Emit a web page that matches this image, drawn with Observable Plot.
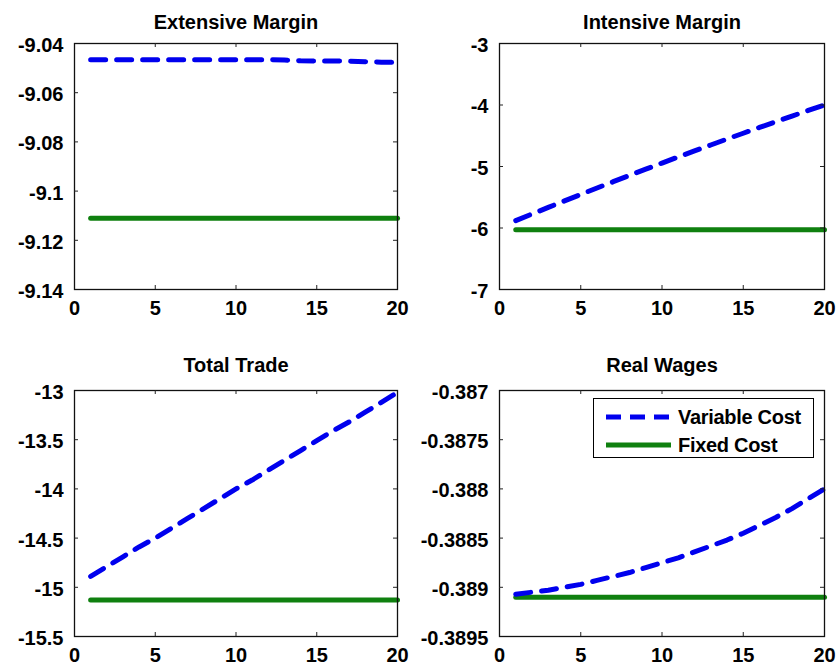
<!DOCTYPE html>
<html>
<head>
<meta charset="utf-8">
<script src="https://cdn.jsdelivr.net/npm/d3@7"></script>
<script src="https://cdn.jsdelivr.net/npm/@observablehq/plot@0.6"></script>
<style>
  body { margin: 0; background: #fff; }
  #wrap { position: relative; width: 840px; height: 668px; overflow: hidden; background: #fff;
          font-family: "Liberation Sans", Arial, Helvetica, sans-serif; }
  .panel { position: absolute; width: 420px; height: 334px; }
  .panel svg { overflow: visible; }
  #legend { position: absolute; left: 593px; top: 398px; width: 219px; height: 58px;
            border: 1.2px solid #000; background: #fff; }
  #legend text { font-family: "Liberation Sans", Arial, sans-serif; font-size: 20px; font-weight: bold; fill: #000; letter-spacing: -0.3px; }
</style>
</head>
<body>
<div id="wrap"></div>
<script>
// ---- data ----
const steps = [1,2,3,4,5,6,7,8,9,10,11,12,13,14,15,16,17,18,19,20];
const seriesNames = ["Variable Cost", "Fixed Cost"];
const panelTitles = ["Extensive Margin", "Intensive Margin", "Total Trade", "Real Wages"];

const extensiveVariable = [-9.0466,-9.0466,-9.0466,-9.0466,-9.0466,-9.0466,-9.0466,-9.0466,-9.0466,-9.0466,-9.0466,-9.0466,-9.0467,-9.0470,-9.0471,-9.0471,-9.0472,-9.0474,-9.0476,-9.0477];
const extensiveFixed    = [-9.111,-9.111,-9.111,-9.111,-9.111,-9.111,-9.111,-9.111,-9.111,-9.111,-9.111,-9.111,-9.111,-9.111,-9.111,-9.111,-9.111,-9.111,-9.111,-9.111];

const intensiveVariable = [-5.880,-5.772,-5.665,-5.559,-5.454,-5.350,-5.247,-5.145,-5.044,-4.944,-4.845,-4.747,-4.650,-4.554,-4.459,-4.365,-4.272,-4.180,-4.089,-3.999];
const intensiveFixed    = [-6.03,-6.03,-6.03,-6.03,-6.03,-6.03,-6.03,-6.03,-6.03,-6.03,-6.03,-6.03,-6.03,-6.03,-6.03,-6.03,-6.03,-6.03,-6.03,-6.03];

const tradeVariable = [-14.89,-14.79,-14.69,-14.59,-14.50,-14.40,-14.30,-14.20,-14.10,-14.00,-13.91,-13.81,-13.71,-13.61,-13.51,-13.41,-13.32,-13.22,-13.12,-13.02];
const tradeFixed    = [-15.13,-15.13,-15.13,-15.13,-15.13,-15.13,-15.13,-15.13,-15.13,-15.13,-15.13,-15.13,-15.13,-15.13,-15.13,-15.13,-15.13,-15.13,-15.13,-15.13];

const wagesVariable = [-0.38907,-0.38905,-0.38903,-0.38900,-0.38897,-0.38893,-0.38889,-0.38885,-0.38880,-0.38875,-0.38870,-0.38864,-0.38858,-0.38852,-0.38845,-0.38837,-0.38829,-0.38820,-0.38810,-0.38800];
const wagesFixed    = [-0.3891,-0.3891,-0.3891,-0.3891,-0.3891,-0.3891,-0.3891,-0.3891,-0.3891,-0.3891,-0.3891,-0.3891,-0.3891,-0.3891,-0.3891,-0.3891,-0.3891,-0.3891,-0.3891,-0.3891];

const xTicks = [0, 5, 10, 15, 20];
const extensiveTicks = [-9.14, -9.12, -9.1, -9.08, -9.06, -9.04];
const intensiveTicks = [-7, -6, -5, -4, -3];
const tradeTicks = [-15.5, -15, -14.5, -14, -13.5, -13];
const wagesTicks = [-0.3895, -0.389, -0.3885, -0.388, -0.3875, -0.387];

// ---- styles ----
const BLUE = "#0000ee";
const GREEN = "#0f800f";
const FONT = '"Liberation Sans", Arial, Helvetica, sans-serif';
const fmt = d => String(+(+d).toFixed(5));

function makePanel(cfg) {
  const W = 420, H = 334;
  const {title, variable, fixed, yTicks, left, top, mt, mb, ml, mr, titleDy} = cfg;
  const rows = steps.map((s, i) => ({step: s, v: variable[i], f: fixed[i]}));
  const innerW = W - ml - mr, innerH = H - mt - mb, tk = 4;
  const chart = Plot.plot({
    width: W, height: H,
    marginTop: mt, marginBottom: mb, marginLeft: ml, marginRight: mr,
    style: {fontFamily: FONT, fontSize: "20px", fontWeight: "bold", color: "#000", background: "transparent", overflow: "visible"},
    x: {domain: [0, 20], label: null},
    y: {domain: [yTicks[0], yTicks[yTicks.length - 1]], label: null},
    marks: [
      Plot.line(rows, {x: "step", y: "f", stroke: GREEN, strokeWidth: 5}),
      Plot.line(rows, {x: "step", y: "v", stroke: BLUE, strokeWidth: 5, strokeDasharray: "15,11"}),
      Plot.frame({stroke: "#111", strokeWidth: 1.3}),
      Plot.tickX(xTicks.slice(1, -1), {x: d => d, insetTop: innerH - tk, stroke: "#222"}),
      Plot.tickX(xTicks.slice(1, -1), {x: d => d, insetBottom: innerH - tk, stroke: "#222"}),
      Plot.tickY(yTicks.slice(1, -1), {y: d => d, insetLeft: innerW - tk, stroke: "#222"}),
      Plot.tickY(yTicks.slice(1, -1), {y: d => d, insetRight: innerW - tk, stroke: "#222"}),
      Plot.axisX(xTicks, {tickSize: 0, tickPadding: 11, tickFormat: fmt, fontSize: 20, fontWeight: "bold", label: null, fill: "#000"}),
      Plot.axisY(yTicks, {tickSize: 0, tickPadding: 11, tickFormat: fmt, fontSize: 20, fontWeight: "bold", label: null, fill: "#000", dy: 2}),
      Plot.text([title], {frameAnchor: "top", text: d => d, lineAnchor: "bottom", dy: titleDy, fontSize: 20, fontWeight: "bold", fill: "#000"})
    ]
  });
  const div = document.createElement("div");
  div.className = "panel";
  div.style.left = left + "px";
  div.style.top = top + "px";
  div.appendChild(chart);
  document.getElementById("wrap").appendChild(div);
}

makePanel({title: panelTitles[0], variable: extensiveVariable, fixed: extensiveFixed, yTicks: extensiveTicks,
  left: 0, top: 0, mt: 43, mb: 45, ml: 74, mr: 23, titleDy: -15});
makePanel({title: panelTitles[1], variable: intensiveVariable, fixed: intensiveFixed, yTicks: intensiveTicks,
  left: 420, top: 0, mt: 43, mb: 45, ml: 79, mr: 16, titleDy: -15});
makePanel({title: panelTitles[2], variable: tradeVariable, fixed: tradeFixed, yTicks: tradeTicks,
  left: 0, top: 334, mt: 56, mb: 32, ml: 74, mr: 23, titleDy: -19});
makePanel({title: panelTitles[3], variable: wagesVariable, fixed: wagesFixed, yTicks: wagesTicks,
  left: 420, top: 334, mt: 56, mb: 32, ml: 79, mr: 16, titleDy: -19});

// ---- legend (inside the Real Wages panel) ----
const ns = "http://www.w3.org/2000/svg";
const legend = document.createElement("div");
legend.id = "legend";
const lsvg = document.createElementNS(ns, "svg");
lsvg.setAttribute("width", 219); lsvg.setAttribute("height", 58);
[[BLUE, "15,9", 18, 25], [GREEN, null, 46, 53]].forEach(([c, dash, y, ty], i) => {
  const ln = document.createElementNS(ns, "line");
  ln.setAttribute("x1", 12); ln.setAttribute("x2", 77);
  ln.setAttribute("y1", y); ln.setAttribute("y2", y);
  ln.setAttribute("stroke", c); ln.setAttribute("stroke-width", 5);
  if (dash) ln.setAttribute("stroke-dasharray", dash);
  lsvg.appendChild(ln);
  const t = document.createElementNS(ns, "text");
  t.setAttribute("x", 84); t.setAttribute("y", ty);
  t.textContent = seriesNames[i];
  lsvg.appendChild(t);
});
legend.appendChild(lsvg);
document.getElementById("wrap").appendChild(legend);
</script>
</body>
</html>
